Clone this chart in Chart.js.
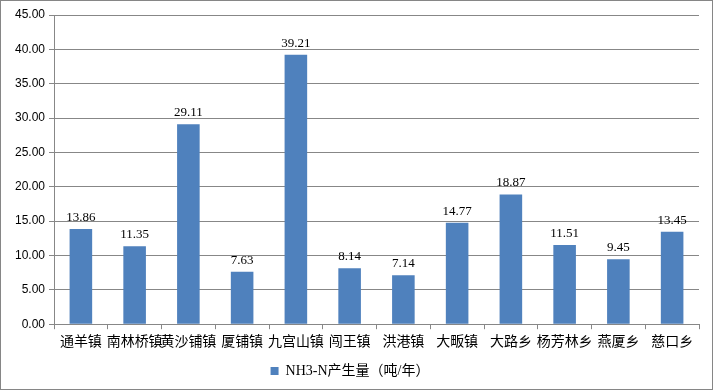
<!DOCTYPE html>
<html>
<head>
<meta charset="utf-8">
<script src="https://cdn.jsdelivr.net/npm/chart.js@4/dist/chart.umd.min.js"></script>
<style>
  html, body { margin: 0; padding: 0; background: #fff; }
  #wrap { position: relative; width: 711px; height: 388px; border: 1px solid #868686; }
</style>
</head>
<body>
<div id="wrap"><canvas id="c" width="711" height="388"></canvas></div>
<script>
// ---------- Data ----------
const towns = ["通羊镇", "南林桥镇", "黄沙铺镇", "厦铺镇", "九宫山镇", "闯王镇", "洪港镇", "大畈镇", "大路乡", "杨芳林乡", "燕厦乡", "慈口乡"];
const nh3n = [13.86, 11.35, 29.11, 7.63, 39.21, 8.14, 7.14, 14.77, 18.87, 11.51, 9.45, 13.45];
const seriesName = "NH3-N产生量（吨/年）";

const BAR = "#4F81BD";
const GRID = "#878787";

// draw value labels above bars
const valueLabels = {
  id: "valueLabels",
  afterDatasetsDraw(chart) {
    const ctx = chart.ctx;
    const meta = chart.getDatasetMeta(0);
    ctx.save();
    ctx.font = "13px 'Liberation Serif', serif";
    ctx.fillStyle = "#000";
    ctx.textAlign = "center";
    ctx.textBaseline = "bottom";
    meta.data.forEach((bar, i) => {
      ctx.fillText(nh3n[i].toFixed(2), bar.x, bar.y - 5);
    });
    ctx.restore();
  },
};

new Chart(document.getElementById("c"), {
  type: "bar",
  data: {
    labels: towns,
    datasets: [{
      label: seriesName,
      data: nh3n,
      backgroundColor: BAR,
      categoryPercentage: 1,
      barPercentage: 0.42,
    }],
  },
  options: {
    responsive: false,
    animation: false,
    layout: { padding: { top: 14, right: 13, left: 0, bottom: 1 } },
    scales: {
      x: {
        offset: true,
        grid: { offset: true, drawOnChartArea: false, drawTicks: true, tickLength: 5, color: GRID },
        border: { color: GRID },
        ticks: { color: "#000", font: { size: 14, family: "'Noto Sans CJK SC', sans-serif" }, maxRotation: 0, autoSkip: false, padding: 3 },
      },
      y: {
        min: 0,
        max: 45,
        afterFit(s) { s.width = 53; },
        grid: { color: GRID, tickLength: 5 },
        border: { color: GRID },
        ticks: {
          stepSize: 5,
          color: "#000",
          padding: 4,
          font: { size: 12, family: "'Liberation Sans', sans-serif" },
          callback: (v) => Number(v).toFixed(2),
        },
      },
    },
    plugins: {
      tooltip: { enabled: false },
      legend: {
        position: "bottom",
        labels: {
          color: "#000",
          boxWidth: 8,
          boxHeight: 8,
          padding: 12,
          font: { size: 14, family: "'Liberation Serif', 'Noto Sans CJK SC', serif" },
        },
      },
    },
  },
  plugins: [valueLabels],
});
</script>
</body>
</html>
